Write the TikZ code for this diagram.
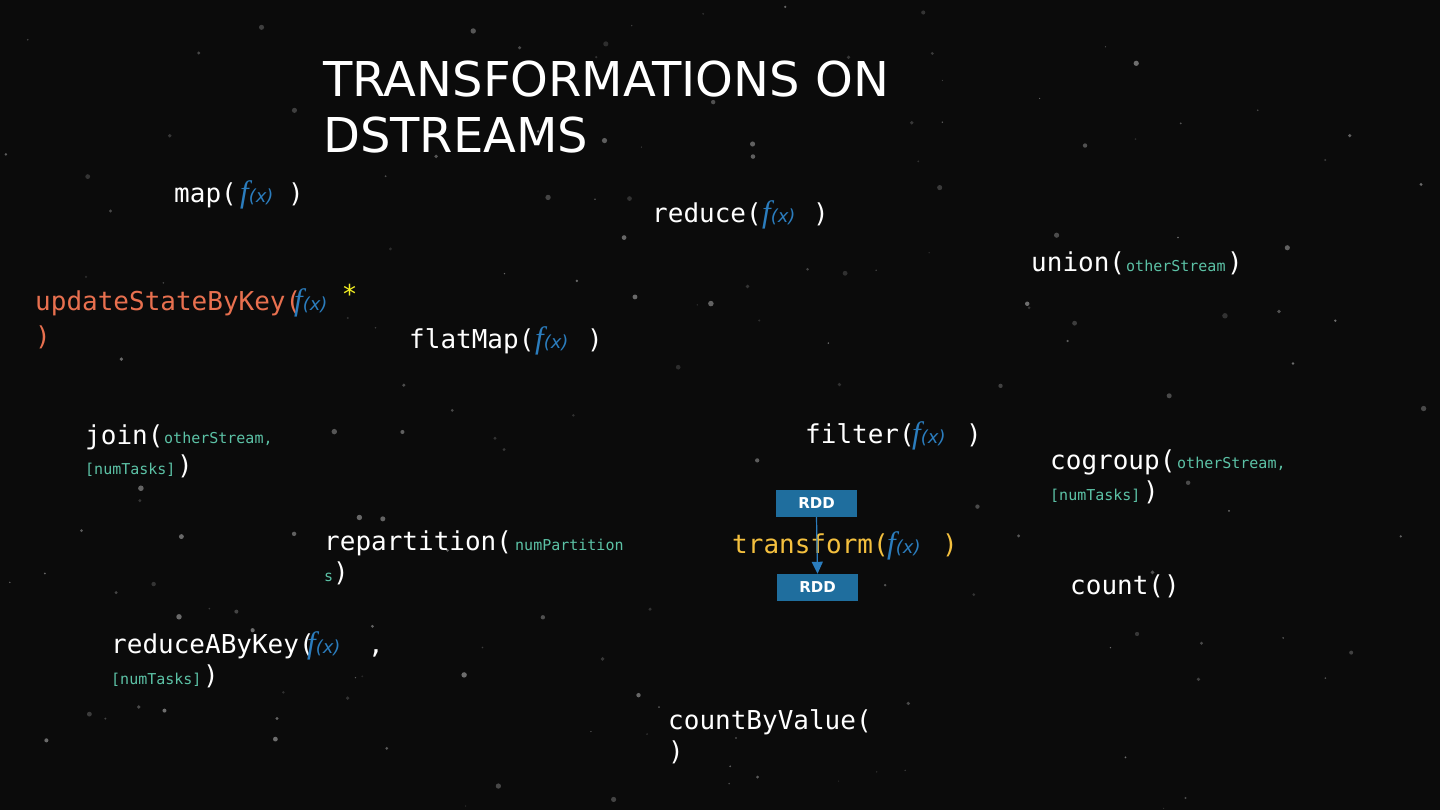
\documentclass[tikz,border=0pt]{standalone}
\usepackage{fontspec}
\setmainfont{DejaVu Sans}
\newfontfamily\monofont{DejaVu Sans Mono}
\newfontfamily\fxfont{Liberation Serif}
\usetikzlibrary{arrows.meta}

\definecolor{slidebg}{HTML}{0B0B0B}
\definecolor{argcol}{HTML}{5CC2A6}
\definecolor{fxcol}{HTML}{2B7DBE}
\definecolor{statecol}{HTML}{E8704F}
\definecolor{transcol}{HTML}{F4C03E}
\definecolor{starcol}{HTML}{F2EE22}
\definecolor{rddcol}{HTML}{1F6E9E}

\newcommand{\fx}{{\fxfont\itshape\fontsize{31}{31}\selectfont f}{\itshape\fontsize{18}{18}\selectfont (x)}}

\begin{document}
\begin{tikzpicture}[x=1pt,y=-1pt,
    every node/.style={inner sep=0pt,anchor=base west},
    title/.style={text=white,font=\fontsize{48}{56}\selectfont},
    fn/.style={text=white,font=\monofont\fontsize{26}{30}\selectfont},
    arg/.style={text=argcol,font=\monofont\fontsize{15}{18}\selectfont},
    fxnode/.style={text=fxcol},
    rdd/.style={anchor=center,fill=rddcol,text=white,minimum width=81pt,minimum height=27pt,
      font=\bfseries\fontsize{15}{18}\selectfont}]
  \fill[slidebg] (0,0) rectangle (1440,810);
  \useasboundingbox (0,0) rectangle (1440,810);
  \pgfmathsetseed{7}
  \foreach \i in {1,...,160}{
    \pgfmathsetmacro{\px}{rnd*1440}
    \pgfmathsetmacro{\py}{rnd*810}
    \pgfmathsetmacro{\pr}{0.6+rnd*2.2}
    \pgfmathsetmacro{\po}{0.12+rnd*0.3}
    \fill[white,opacity=\po] (\px,\py) circle[radius=\pr];
  }

  \node[title] (t1) at (323,97) {TRANSFORMATIONS ON};
  \node[title] (t2) at (323,153) {DSTREAMS};

  \node[fn] (map) at (174,203) {map(};
  \node[fxnode] (mapf) at (240,203) {\fx};
  \node[fn] (mapc) at (288,203) {)};

  \node[fn] (reduce) at (652,223) {reduce(};
  \node[fxnode] (reducef) at (762,223) {\fx};
  \node[fn] (reducec) at (813,223) {)};

  \node[fn] (union) at (1031,272) {union(};
  \node[arg] (uniona) at (1126,272) {otherStream};
  \node[fn] (unionc) at (1227,272) {)};

  \node[fn,text=statecol] (state) at (35,310) {updateStateByKey(};
  \node[fxnode] (statef) at (294,310) {\fx};
  \node[text=starcol,font=\fontsize{26}{30}\selectfont] (star) at (343,303) {*};
  \node[fn,text=statecol] (statec) at (35,345) {)};

  \node[fn] (flatmap) at (409,348) {flatMap(};
  \node[fxnode] (flatmapf) at (535,348) {\fx};
  \node[fn] (flatmapc) at (587,348) {)};

  \node[fn] (join) at (85,444) {join(};
  \node[arg] (joina) at (164,443) {otherStream,};
  \node[arg] (joinb) at (85,474) {[numTasks]};
  \node[fn] (joinc) at (177,474) {)};

  \node[fn] (filter) at (805,443) {filter(};
  \node[fxnode] (filterf) at (912,443) {\fx};
  \node[fn] (filterc) at (966,443) {)};

  \node[fn] (cogroup) at (1050,469) {cogroup(};
  \node[arg] (cogroupa) at (1177,468) {otherStream,};
  \node[arg] (cogroupb) at (1050,500) {[numTasks]};
  \node[fn] (cogroupc) at (1143,500) {)};

  \node[rdd] (rddin) at (816.5,503.5) {RDD};
  \node[rdd] (rddout) at (817.5,587.5) {RDD};
  \node[fn,text=transcol] (transform) at (732,553) {transform(};
  \node[fxnode] (transformf) at (887,553) {\fx};
  \node[fn,text=transcol] (transformc) at (942,553) {)};
  \draw[fxcol,line width=1.2pt,-{Triangle[length=12pt,width=11pt]}] (rddin.south) -- (rddout.north);

  \node[fn] (repart) at (324,550) {repartition(};
  \node[arg] (reparta) at (515,550) {numPartition};
  \node[arg] (repartb) at (324,581) {s};
  \node[fn] (repartc) at (333,581) {)};

  \node[fn] (count) at (1070,594) {count()};

  \node[fn] (rbk) at (111,653) {reduceAByKey(};
  \node[fxnode] (rbkf) at (307,653) {\fx};
  \node[fn] (rbkcomma) at (368,653) {,};
  \node[arg] (rbkb) at (111,684) {[numTasks]};
  \node[fn] (rbkc) at (203,684) {)};

  \node[fn] (cbv) at (668,729) {countByValue(};
  \node[fn] (cbvc) at (668,760) {)};
\end{tikzpicture}
\end{document}
